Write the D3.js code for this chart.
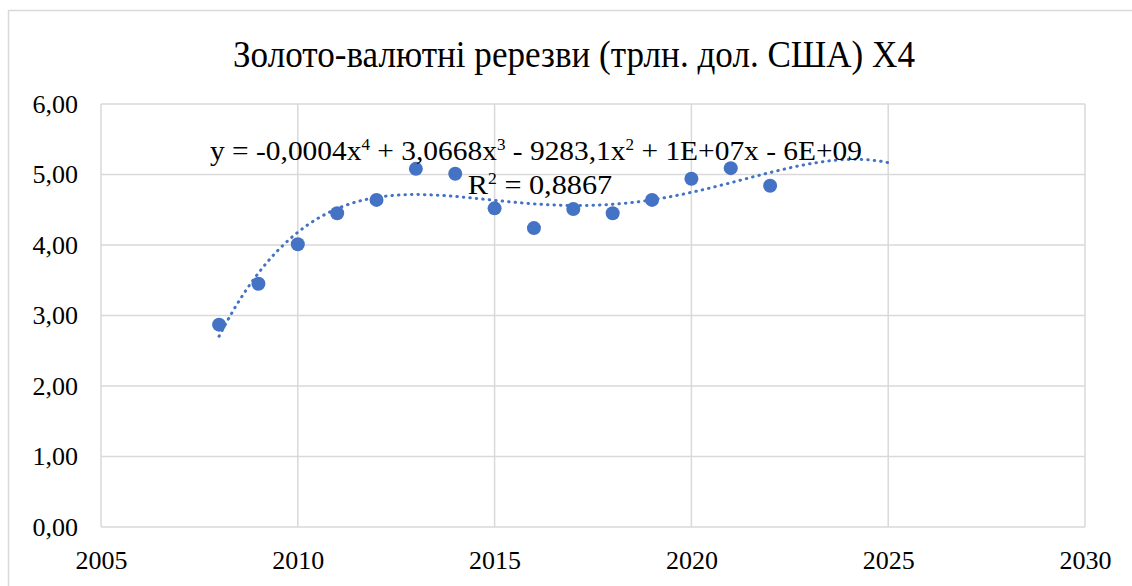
<!DOCTYPE html>
<html>
<head>
<meta charset="utf-8">
<script src="https://cdn.jsdelivr.net/npm/d3@7"></script>
<style>
  body { margin: 0; background: #fff; }
</style>
</head>
<body>
<script>
// data
var years = [2008, 2009, 2010, 2011, 2012, 2013, 2014, 2015, 2016, 2017, 2018, 2019, 2020, 2021, 2022];
var reserves = [2.87, 3.45, 4.01, 4.45, 4.64, 5.08, 5.01, 4.52, 4.24, 4.51, 4.45, 4.64, 4.94, 5.09, 4.84];
var yTicks = [0, 1, 2, 3, 4, 5, 6];
var xTicks = [2005, 2010, 2015, 2020, 2025, 2030];
var titleText = "Золото-валютні ререзви (трлн. дол. США) X4";
var forecastTo = 2025;

var FONT = "'Liberation Serif'";

var W = 1132, H = 586;
var margin = {top: 104, right: 47, bottom: 59, left: 101};
var width = W - margin.left - margin.right,
    height = H - margin.top - margin.bottom;

var svg = d3.select("body").append("svg")
  .attr("width", W)
  .attr("height", H);

// chart area frame
svg.append("rect")
  .attr("x", 8.5).attr("y", 10.5)
  .attr("width", W + 20).attr("height", H + 20)
  .attr("fill", "#fff")
  .attr("stroke", "#d9d9d9")
  .attr("stroke-width", 1.5);

var g = svg.append("g")
  .attr("transform", "translate(" + margin.left + "," + margin.top + ")");

var x = d3.scaleLinear().domain([2005, 2030]).range([0, width]);
var y = d3.scaleLinear().domain([0, 6]).range([height, 0]);

// gridlines
g.selectAll(".hgrid").data(yTicks).enter().append("line")
  .attr("x1", 0).attr("x2", width)
  .attr("y1", function(d) { return y(d); })
  .attr("y2", function(d) { return y(d); })
  .attr("stroke", "#d9d9d9").attr("stroke-width", 1.5);

g.selectAll(".vgrid").data(xTicks).enter().append("line")
  .attr("x1", function(d) { return x(d); })
  .attr("x2", function(d) { return x(d); })
  .attr("y1", 0).attr("y2", height)
  .attr("stroke", "#d9d9d9").attr("stroke-width", 1.5);

// axes (labels only)
var fmt = function(d) { return d3.format(".2f")(d).replace(".", ","); };

var yAxis = g.append("g")
  .call(d3.axisLeft(y).tickValues(yTicks).tickFormat(fmt).tickSize(0).tickPadding(23));
yAxis.select(".domain").remove();
yAxis.selectAll("text")
  .style("font-family", FONT).style("font-size", "26px").attr("fill", "#000");

var xAxis = g.append("g")
  .attr("transform", "translate(0," + height + ")")
  .call(d3.axisBottom(x).tickValues(xTicks).tickFormat(d3.format("d")).tickSize(0).tickPadding(24));
xAxis.select(".domain").remove();
xAxis.selectAll("text")
  .style("font-family", FONT).style("font-size", "26px").attr("fill", "#000");

// polynomial (order 4) trendline, least squares on centred years
function polyfit(xs, ys, order) {
  var n = order + 1;
  var A = [], b = [];
  for (var i = 0; i < n; i++) {
    A.push([]);
    for (var j = 0; j < n; j++) {
      A[i].push(d3.sum(xs, function(v) { return Math.pow(v, i + j); }));
    }
    b.push(d3.sum(xs, function(v, k) { return ys[k] * Math.pow(v, i); }));
  }
  // gaussian elimination
  for (var c = 0; c < n; c++) {
    var p = c;
    for (var r = c + 1; r < n; r++) if (Math.abs(A[r][c]) > Math.abs(A[p][c])) p = r;
    var t = A[c]; A[c] = A[p]; A[p] = t;
    var tb = b[c]; b[c] = b[p]; b[p] = tb;
    for (var r2 = c + 1; r2 < n; r2++) {
      var f = A[r2][c] / A[c][c];
      for (var k = c; k < n; k++) A[r2][k] -= f * A[c][k];
      b[r2] -= f * b[c];
    }
  }
  var coef = new Array(n).fill(0);
  for (var r3 = n - 1; r3 >= 0; r3--) {
    var s = b[r3];
    for (var k2 = r3 + 1; k2 < n; k2++) s -= A[r3][k2] * coef[k2];
    coef[r3] = s / A[r3][r3];
  }
  return coef;
}

var x0 = d3.mean(years);
var coef = polyfit(years.map(function(d) { return d - x0; }), reserves, 4);
var trendY = function(t) {
  var u = t - x0;
  return coef.reduce(function(acc, c, i) { return acc + c * Math.pow(u, i); }, 0);
};
var trendPts = d3.range(years[0], forecastTo + 0.001, 0.1);

var valueline = d3.line()
  .x(function(d) { return x(d); })
  .y(function(d) { return y(trendY(d)); });

g.append("path")
  .datum(trendPts)
  .attr("d", valueline)
  .attr("fill", "none")
  .attr("stroke", "#4472c4")
  .attr("stroke-width", 3)
  .attr("stroke-linecap", "round")
  .attr("stroke-dasharray", "0.5,6");

// points
g.selectAll(".dot").data(years).enter().append("circle")
  .attr("cx", function(d) { return x(d); })
  .attr("cy", function(d, i) { return y(reserves[i]); })
  .attr("r", 7)
  .attr("fill", "#4472c4");

// title
svg.append("text")
  .attr("x", 574).attr("y", 67)
  .attr("text-anchor", "middle")
  .attr("textLength", 682)
  .attr("lengthAdjust", "spacingAndGlyphs")
  .style("font-family", FONT).style("font-size", "37px")
  .text(titleText);

// trendline equation (slightly widened like the source)
var eq = svg.append("text")
  .attr("transform", "translate(536,160) scale(1.07,1)")
  .attr("text-anchor", "middle")
  .style("font-family", FONT).style("font-size", "27.5px");
var parts = [
  ["y = -0,0004x", false], ["4", true], [" + 3,0668x", false], ["3", true],
  [" - 9283,1x", false], ["2", true], [" + 1E+07x - 6E+09", false]
];
parts.forEach(function(p, i) {
  eq.append("tspan")
    .attr("dy", p[1] ? -10 : (i > 0 ? 10 : 0))
    .style("font-family", FONT)
    .style("font-size", p[1] ? "16px" : "27.5px")
    .text(p[0]);
});

var r2 = svg.append("text")
  .attr("transform", "translate(540,194) scale(1.1,1)")
  .attr("text-anchor", "middle")
  .style("font-family", FONT).style("font-size", "27.5px");
r2.append("tspan").text("R");
r2.append("tspan").attr("dy", -10).style("font-size", "16px").text("2");
r2.append("tspan").attr("dy", 10).text(" = 0,8867");
</script>
</body>
</html>
